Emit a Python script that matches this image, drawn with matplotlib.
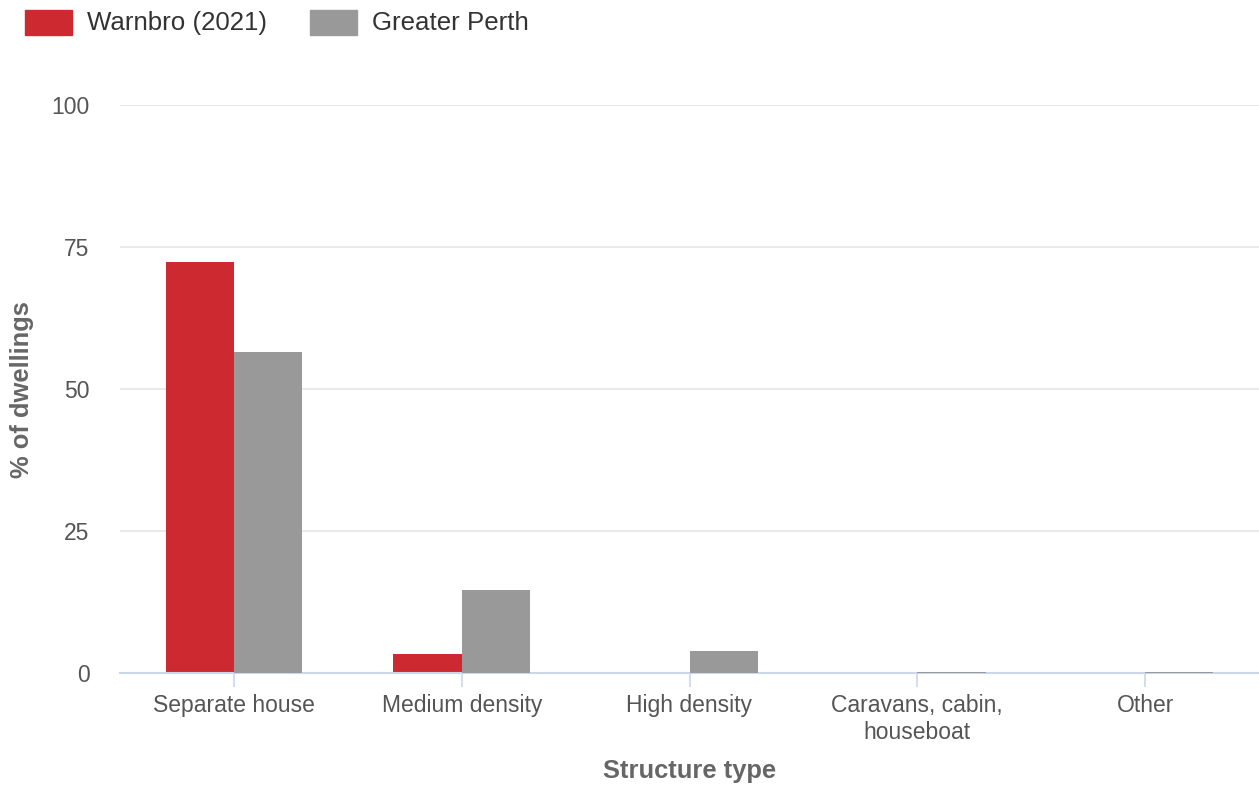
import matplotlib
matplotlib.use("Agg")
import matplotlib.pyplot as plt
from matplotlib.patches import Rectangle
import numpy as np

categories = ["Separate house", "Medium density", "High density", "Caravans, cabin,\nhouseboat", "Other"]
warnbro = [72.4, 3.3, 0.0, 0.0, 0.0]
perth = [56.6, 14.6, 3.9, 0.15, 0.15]
series_names = ["Warnbro (2021)", "Greater Perth"]
colors = ["#cc2a30", "#999999"]
yticks = [0, 25, 50, 75, 100]

plt.rcParams['font.family'] = ['Liberation Sans', 'DejaVu Sans']

W, H = 1259, 789
fig = plt.figure(figsize=(W / 100, H / 100), dpi=100)
ax = fig.add_axes([120 / W, 1 - 673 / H, (1259 - 120) / W, (673 - 105) / H])

x = np.arange(len(categories))
bw = 0.3
ax.bar(x - bw / 2, warnbro, width=bw, color=colors[0], zorder=3)
ax.bar(x + bw / 2, perth, width=bw, color=colors[1], zorder=5)

ax.set_xlim(-0.5, len(categories) - 0.5)
ax.set_ylim(0, 100)
ax.set_yticks(yticks)
ax.set_yticklabels([str(v) for v in yticks], fontsize=16.5, color="#555555")
ax.yaxis.grid(True, color="#e6e6e6", linewidth=1.2, zorder=0)
ax.tick_params(axis="y", length=0, pad=22)

ax.set_xticks(x)
ax.set_xticklabels(categories, fontsize=16.5, color="#555555", linespacing=1.22)
ax.tick_params(axis="x", length=10, width=1.2, color="#ccd6eb", pad=5)

for s in ["top", "right", "left"]:
    ax.spines[s].set_visible(False)
ax.spines["bottom"].set_color("#ccd6eb")
ax.spines["bottom"].set_linewidth(1.5)
ax.spines["bottom"].set_zorder(4)

fig.text(22 / W, 1 - 390 / H, "% of dwellings", rotation=90, ha="center", va="center",
         fontsize=18.4, fontweight="bold", color="#666666")
fig.text(690 / W, 1 - 771 / H, "Structure type", ha="center", va="center",
         fontsize=18.4, fontweight="bold", color="#666666")

# legend
lx = [25, 310]
for i, name in enumerate(series_names):
    fig.patches.append(Rectangle((lx[i] / W, 1 - 35 / H), 47 / W, 25 / H,
                                 transform=fig.transFigure, color=colors[i]))
    fig.text((lx[i] + 62) / W, 1 - 23 / H, name, ha="left", va="center",
             fontsize=18.6, color="#333333")

fig.savefig("out.png", dpi=100)
